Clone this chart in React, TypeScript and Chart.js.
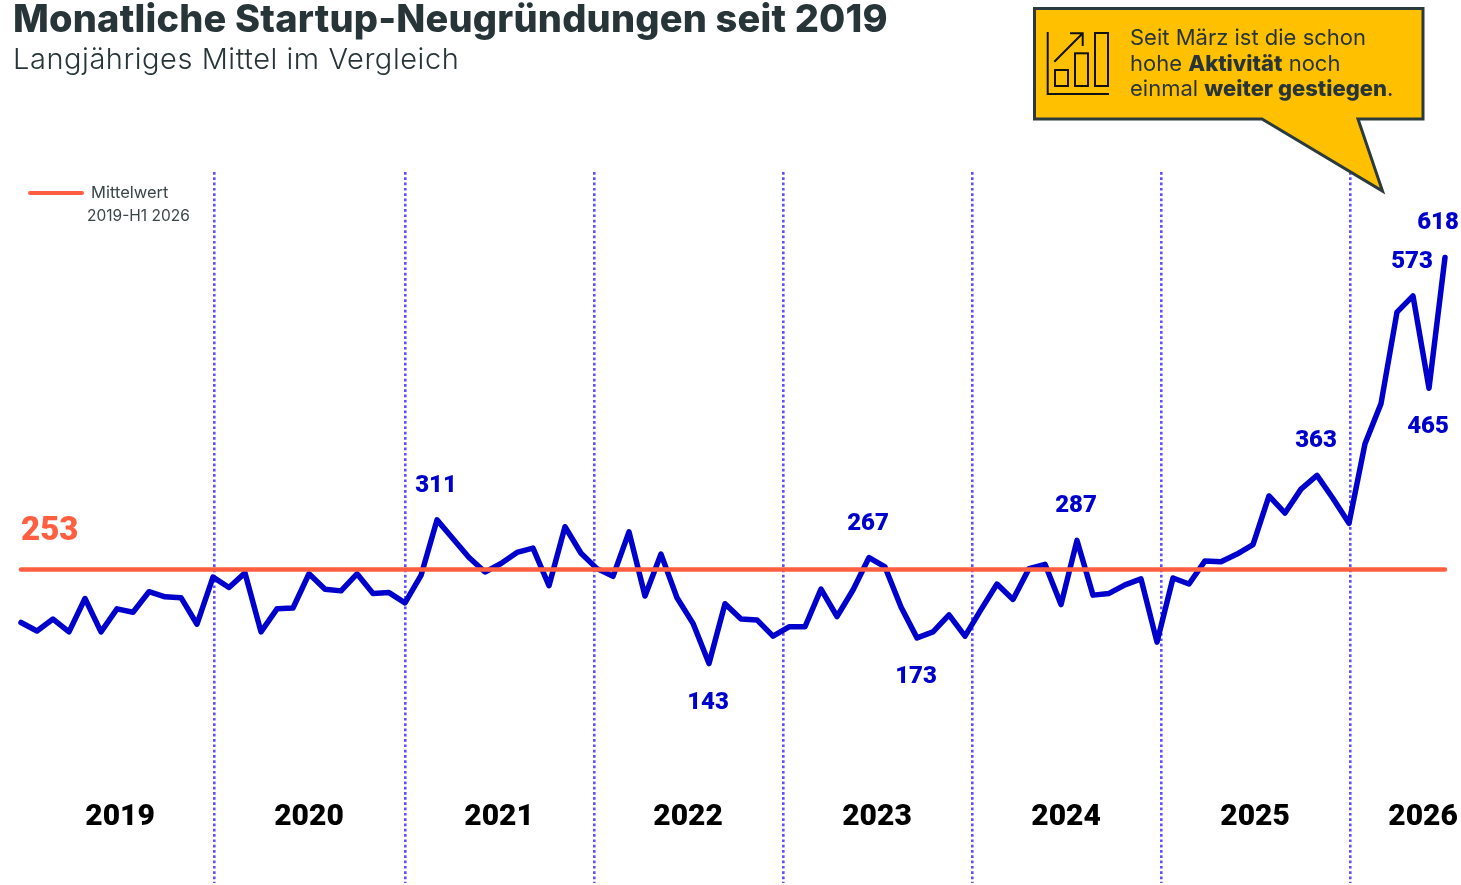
import React, { useEffect, useRef } from "react";
import { Chart, registerables } from "chart.js";

Chart.register(...registerables);

const monthlyFoundings = [
  191, 181, 195, 180, 219, 180, 207, 203, 227, 221, 220, 189,
  244, 232, 249, 180, 207, 208, 248, 230, 228, 248, 225, 226,
  214, 246, 311, 289, 267, 250, 260, 273, 278, 234, 303, 272,
  254, 245, 297, 222, 271, 220, 190, 143, 213, 195, 194, 175,
  186, 186, 230, 198, 229, 267, 256, 209, 173, 180, 200, 175,
  206, 236, 218, 254, 259, 212, 287, 223, 225, 235, 242, 168,
  243, 236, 263, 262, 271, 282, 339, 319, 347, 363, 336, 307,
  400, 447, 554, 573, 465, 618,
];
const longTermMean = 253;
const yearLabels = ["2019", "2020", "2021", "2022", "2023", "2024", "2025", "2026"];
const yearCentres = [6.19, 18.0, 29.88, 41.69, 53.5, 65.32, 77.13, 87.63];
const yearBoundaries = [12.06, 24.0, 35.82, 47.63, 59.44, 71.25, 83.07];
const labelledAbove = [26, 53, 66, 81, 87, 89];
const labelledBelow = [43, 56, 88];

const BLUE = "#0000CC";
const ORANGE = "#FF5F40";
const DOTS = "#5F50FF";
const INK = "#283538";
const NUM_FONT = "Roboto";

const valueLabels = {
  id: "valueLabels",
  afterDatasetsDraw(chart: any) {
    const { ctx, scales } = chart;
    ctx.save();
    ctx.textAlign = "center";
    ctx.textBaseline = "middle";
    ctx.font = `900 24px ${NUM_FONT}`;
    ctx.fillStyle = BLUE;
    const last = monthlyFoundings.length - 1;
    labelledAbove.forEach((i) => {
      const x = scales.x.getPixelForValue(i) - (i === last ? 7 : 1);
      ctx.fillText(String(monthlyFoundings[i]), x, scales.y.getPixelForValue(monthlyFoundings[i]) - 34);
    });
    labelledBelow.forEach((i) => {
      ctx.fillText(String(monthlyFoundings[i]), scales.x.getPixelForValue(i) - 1, scales.y.getPixelForValue(monthlyFoundings[i]) + 39);
    });
    ctx.textAlign = "left";
    ctx.font = `900 33px ${NUM_FONT}`;
    ctx.fillStyle = ORANGE;
    ctx.fillText(String(longTermMean), scales.x.getPixelForValue(0), scales.y.getPixelForValue(longTermMean) - 38);
    ctx.restore();
  },
};

const abs = (s: React.CSSProperties): React.CSSProperties => ({ position: "absolute", whiteSpace: "nowrap", ...s });

export default function App() {
  const ref = useRef<HTMLCanvasElement>(null);
  useEffect(() => {
    const chart = new Chart(ref.current!, {
      type: "line",
      data: {
        datasets: [
          {
            label: "Mittelwert 2019-H1 2026",
            data: monthlyFoundings.map((_, i) => ({ x: i, y: longTermMean })),
            borderColor: ORANGE,
            borderWidth: 4.5,
            pointRadius: 0,
            borderCapStyle: "round",
          },
          {
            label: "Monatliche Startup-Neugründungen",
            data: monthlyFoundings.map((y, i) => ({ x: i, y })),
            borderColor: BLUE,
            borderWidth: 5.5,
            pointRadius: 0,
            tension: 0,
            borderCapStyle: "round",
            borderJoinStyle: "round",
          },
        ],
      },
      options: {
        responsive: false,
        animation: false,
        layout: { padding: { top: 172, left: 0, right: 0, bottom: 0 } },
        plugins: { legend: { display: false }, title: { display: false }, tooltip: { enabled: false } },
        scales: {
          y: { display: false, min: -13.1, max: 717.9 },
          x: {
            type: "linear",
            min: -1.3125,
            max: 90.0,
            border: { display: false, dash: [2.7, 2.6] },
            afterBuildTicks(scale: any) {
              scale.ticks = [...yearCentres, ...yearBoundaries].sort((a, b) => a - b).map((value) => ({ value }));
            },
            afterFit(scale: any) {
              scale.height = 88;
            },
            grid: {
              lineWidth: 2.6,
              tickWidth: 2.6,
              tickLength: 86,
              tickBorderDash: [2.7, 2.6],
              color: (c: any) => (yearBoundaries.includes(c.tick?.value) ? DOTS : "rgba(0,0,0,0)"),
              tickColor: (c: any) => (yearBoundaries.includes(c.tick?.value) ? DOTS : "rgba(0,0,0,0)"),
            },
            ticks: {
              autoSkip: false,
              maxRotation: 0,
              padding: -84,
              color: "#000",
              font: { family: NUM_FONT, weight: "900", size: 30 },
              callback: (v: any) => {
                const k = yearCentres.indexOf(v);
                return k >= 0 ? yearLabels[k] : "";
              },
            },
          },
        },
      },
      plugins: [valueLabels],
    } as any);
    return () => chart.destroy();
  }, []);

  return (
    <div style={{ position: "absolute", left: 0, top: 0, width: 1461, height: 885, overflow: "hidden", background: "#fff" }}>
      <canvas ref={ref} width={1461} height={885} style={{ position: "absolute", left: 0, top: 0, display: "block" }} />
      <div style={abs({ left: 13, top: -5, fontFamily: "Inter", fontWeight: 800, fontSize: 38, letterSpacing: 0.19, lineHeight: "46px", color: INK })}>
        Monatliche Startup-Neugründungen seit 2019
      </div>
      <div style={abs({ left: 13, top: 41, fontFamily: "Inter", fontWeight: 300, fontSize: 29, letterSpacing: 0.55, lineHeight: "36px", color: INK })}>
        Langjähriges Mittel im Vergleich
      </div>
      <div style={abs({ left: 28, top: 191, width: 56, height: 4, borderRadius: 2, background: ORANGE })} />
      <div style={abs({ left: 91, top: 182, fontFamily: "Inter", fontSize: 16.5, lineHeight: "20px", color: "#3A4649" })}>Mittelwert</div>
      <div style={abs({ left: 87, top: 206, fontFamily: "Inter", fontSize: 15.5, lineHeight: "20px", color: "#3A4649" })}>2019-H1 2026</div>
      <svg width={1461} height={210} style={{ position: "absolute", left: 0, top: 0 }}>
        <path d="M1034.5 8.5H1423V119H1358L1382.5 191L1262 119H1034.5Z" fill="#FFC000" stroke="#2B3A3D" strokeWidth={3} />
        <g fill="none" stroke="#111" strokeWidth={2}>
          <path d="M1047.7 32V94H1109" />
          <rect x={1055} y={70} width={13} height={16} />
          <rect x={1075} y={53.3} width={13} height={32.7} />
          <rect x={1095} y={33} width={13} height={53} />
          <path d="M1054.3 61.7L1082.7 33.3M1070 33.3H1082.7V46" />
        </g>
      </svg>
      <div style={abs({ left: 1130, top: 25, fontFamily: "Inter", fontSize: 22, lineHeight: "25.6px", color: INK })}>
        Seit März ist die schon<br />
        hohe <b style={{ fontWeight: 800 }}>Aktivität</b> noch<br />
        einmal <b style={{ fontWeight: 800 }}>weiter gestiegen</b>.
      </div>
    </div>
  );
}
